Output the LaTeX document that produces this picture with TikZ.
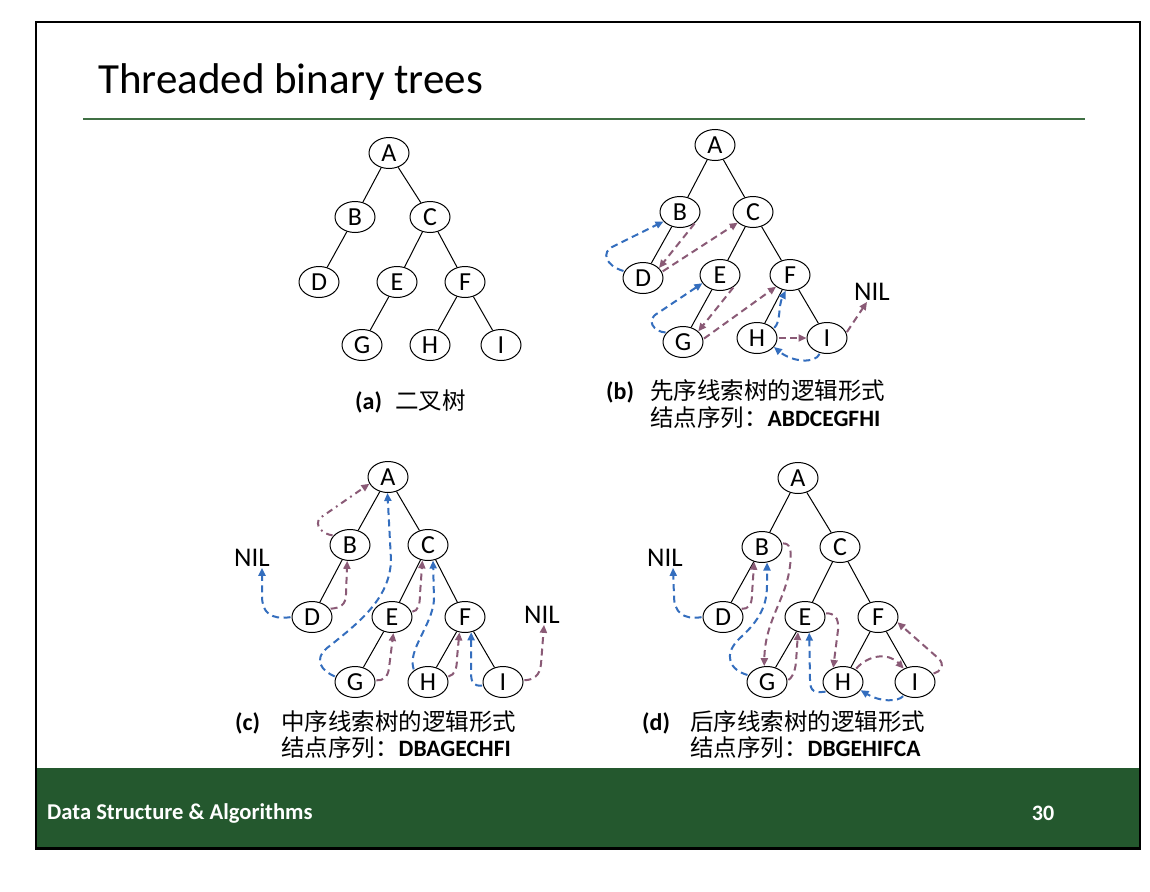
\documentclass[tikz,border=0pt]{standalone}
\usepackage{fontspec}
\setmainfont{Carlito}
\newfontfamily\cjk{Noto Sans CJK SC}
\usetikzlibrary{shapes.geometric,arrows.meta}
\definecolor{slidegreen}{RGB}{36,88,46}
\definecolor{rulegreen}{RGB}{64,112,68}
\definecolor{thrblue}{RGB}{52,110,190}
\definecolor{thrmauve}{RGB}{138,90,118}

\begin{document}
\begin{tikzpicture}[x=1pt,y=-1pt,
  nd/.style={ellipse,draw,line width=1pt,minimum width=40pt,minimum height=31pt,
    inner sep=0pt,font=\fontsize{26}{26}\selectfont},
  tedge/.style={line width=1pt},
  thr/.style={line width=2pt,dash pattern=on 7pt off 4.5pt,shorten <=1pt,
    -{Triangle[length=8pt,width=7pt]}},
  lthr/.style={thr,draw=thrblue},
  rthr/.style={thr,draw=thrmauve},
  nil/.style={font=\fontsize{27}{27}\selectfont,inner sep=1pt},
  capl/.style={anchor=base west,inner sep=0pt,font=\fontsize{24}{24}\selectfont\bfseries},
  capc/.style={anchor=base west,inner sep=0pt,font=\fontsize{23.5}{23.5}\cjk},
]
\useasboundingbox (0,0) rectangle (1150,891);
\fill[white] (0,0) rectangle (1150,891);

% slide frame, footer band and title
\fill[slidegreen] (36,768) rectangle (1140,848.5);
\draw[line width=2.6pt] (36,22) rectangle (1140,848.5);
\node[anchor=base west,inner sep=0pt,font=\fontsize{43}{43}\selectfont] (title) at (98,93.5) {Threaded binary trees};
\draw[rulegreen,line width=1.3pt] (83,119) -- (1085,119);
\node[anchor=west,inner sep=0pt,text=white,font=\fontsize{22.6}{22.6}\selectfont\bfseries] (foot) at (47,813) {Data Structure \& Algorithms};
\node[anchor=center,inner sep=0pt,text=white,font=\fontsize{22}{22}\selectfont\bfseries] (page) at (1043,813) {30};

% (a) plain binary tree
\node[nd] (aA) at (389,153) {A};
\node[nd] (aB) at (355,217) {B};
\node[nd] (aC) at (430,217) {C};
\node[nd] (aD) at (319,282) {D};
\node[nd] (aE) at (397,282) {E};
\node[nd] (aF) at (465,282) {F};
\node[nd] (aG) at (362,345) {G};
\node[nd] (aH) at (430,345) {H};
\node[nd] (aI) at (501,345) {I};

% (b) preorder threaded tree
\node[nd] (bA) at (715,145) {A};
\node[nd] (bB) at (680,212) {B};
\node[nd] (bC) at (753,212) {C};
\node[nd] (bD) at (643,278) {D};
\node[nd] (bE) at (720,275) {E};
\node[nd] (bF) at (790,275) {F};
\node[nd] (bG) at (683,342) {G};
\node[nd] (bH) at (757,338) {H};
\node[nd] (bI) at (827,338) {I};
\node[nil] (bN) at (872,292) {NIL};

% (c) inorder threaded tree
\node[nd] (cA) at (388,477) {A};
\node[nd] (cB) at (350,545) {B};
\node[nd] (cC) at (428,545) {C};
\node[nd] (cD) at (312,617) {D};
\node[nd] (cE) at (392,617) {E};
\node[nd] (cF) at (465,617) {F};
\node[nd] (cG) at (355,682) {G};
\node[nd] (cH) at (428,682) {H};
\node[nd] (cI) at (503,682) {I};
\node[nil] (cN) at (252,558) {NIL};
\node[nil] (cM) at (542,615) {NIL};

% (d) postorder threaded tree
\node[nd] (dA) at (798,478) {A};
\node[nd] (dB) at (762,547) {B};
\node[nd] (dC) at (840,547) {C};
\node[nd] (dD) at (723,617) {D};
\node[nd] (dE) at (805,617) {E};
\node[nd] (dF) at (878,617) {F};
\node[nd] (dG) at (767,682) {G};
\node[nd] (dH) at (843,682) {H};
\node[nd] (dI) at (915,682) {I};
\node[nil] (dN) at (665,558) {NIL};

% tree edges
\foreach \t in {a,b,c,d}{
  \draw[tedge] (\t A) -- (\t B);
  \draw[tedge] (\t A) -- (\t C);
  \draw[tedge] (\t B) -- (\t D);
  \draw[tedge] (\t C) -- (\t E);
  \draw[tedge] (\t C) -- (\t F);
  \draw[tedge] (\t E) -- (\t G);
  \draw[tedge] (\t F) -- (\t H);
  \draw[tedge] (\t F) -- (\t I);
}

% (b) threads
\draw[lthr] (bD.160) .. controls (606,266) and (600,252) .. (614,246) -- (bB.210);
\draw[rthr] (bB.-35) -- (bD.32);
\draw[rthr] (bD.18) -- (bC.215);
\draw[lthr] (bG.150) .. controls (654,332) and (645,320) .. (658,313) -- (bE.205);
\draw[rthr] (bE.-40) -- (bG.35);
\draw[rthr] (bG.8) -- (bF.220);
\draw[lthr] (bH.30) .. controls (781,322) and (778,306) .. (bF.-105);
\draw[rthr] (bH.0) -- (bI.180);
\draw[lthr] (bI.-115) .. controls (815,364) and (792,362) .. (bH.-28);
\draw[rthr] (bI.15) -- ([xshift=-5pt]bN.south);

% (c) threads
\draw[lthr] (cD.180) .. controls (270,620) and (262,612) .. (262,596) -- ([xshift=10pt]cN.south);
\draw[rthr] (cD.25) .. controls (340,608) and (346,605) .. (346,594) -- (cB.-100);
\draw[rthr,dash pattern=on 6.5pt off 4.5pt on 1.8pt off 4.5pt] (cB.150) .. controls (322,534) and (314,525) .. (320,518) -- (cA.200);
\draw[lthr] (cG.165) .. controls (322,671) and (313,660) .. (327,648) .. controls (360,622) and (390,598) .. (391,560) -- (cA.-92);
\draw[rthr] (cG.5) .. controls (383,681) and (388,677) .. (389,668) -- (cE.-85);
\draw[rthr] (cE.15) .. controls (418,611) and (420,605) .. (420,594) -- (cC.-110);
\draw[lthr] (cH.140) .. controls (407,650) and (432,626) .. (434,600) -- (cC.-72);
\draw[rthr] (cH.15) .. controls (455,675) and (457,668) .. (457,658) -- (cF.-110);
\draw[lthr] (cI.190) .. controls (474,686) and (471,684) .. (471,672) -- (cF.-68);
\draw[rthr] (cI.5) .. controls (533,680) and (540,676) .. (541,664) -- ([xshift=2pt]cM.south);

% (d) threads
\draw[lthr] (dD.180) .. controls (683,620) and (674,612) .. (674,596) -- ([xshift=8pt]dN.south);
\draw[rthr] (dD.25) .. controls (748,609) and (752,606) .. (752,594) -- (dB.-118);
\draw[rthr] (dB.10) .. controls (790,543) and (792,550) .. (790,566) .. controls (786,600) and (765,620) .. (dG.100);
\draw[lthr] (dG.160) .. controls (730,670) and (722,655) .. (740,638) .. controls (760,620) and (767,605) .. (767,585) -- (dB.-72);
\draw[rthr] (dG.5) .. controls (791,679) and (795,673) .. (796,662) -- (dE.-115);
\draw[rthr] (dE.10) .. controls (834,613) and (839,617) .. (838,630) -- (dH.125);
\draw[lthr] (dH.-150) .. controls (815,693) and (810,692) .. (810,680) -- (dE.-75);
\draw[rthr] (dH.45) .. controls (868,655) and (888,652) .. (dI.130);
\draw[lthr] (dI.-130) .. controls (898,702) and (880,702) .. (dH.-25);
\draw[rthr] (dI.25) .. controls (940,672) and (946,665) .. (938,658) -- (dF.-15);

% captions
\node[capl] (acl) at (355,409) {(a)};
\node[capc] (act) at (395,409) {二叉树};
\node[capl] (bcl) at (606,399) {(b)};
\node[capc] (bct) at (650,399) {先序线索树的逻辑形式};
\node[capc] (bcs) at (650,426) {结点序列：{\fontsize{23.5}{23.5}\selectfont\rmfamily\bfseries ABDCEGFHI}};
\node[capl] (ccl) at (235,730) {(c)};
\node[capc] (cct) at (281,730) {中序线索树的逻辑形式};
\node[capc] (ccs) at (281,756) {结点序列：{\fontsize{23.5}{23.5}\selectfont\rmfamily\bfseries DBAGECHFI}};
\node[capl] (dcl) at (642,730) {(d)};
\node[capc] (dct) at (690,730) {后序线索树的逻辑形式};
\node[capc] (dcs) at (690,756) {结点序列：{\fontsize{23.5}{23.5}\selectfont\rmfamily\bfseries DBGEHIFCA}};
\end{tikzpicture}
\end{document}
